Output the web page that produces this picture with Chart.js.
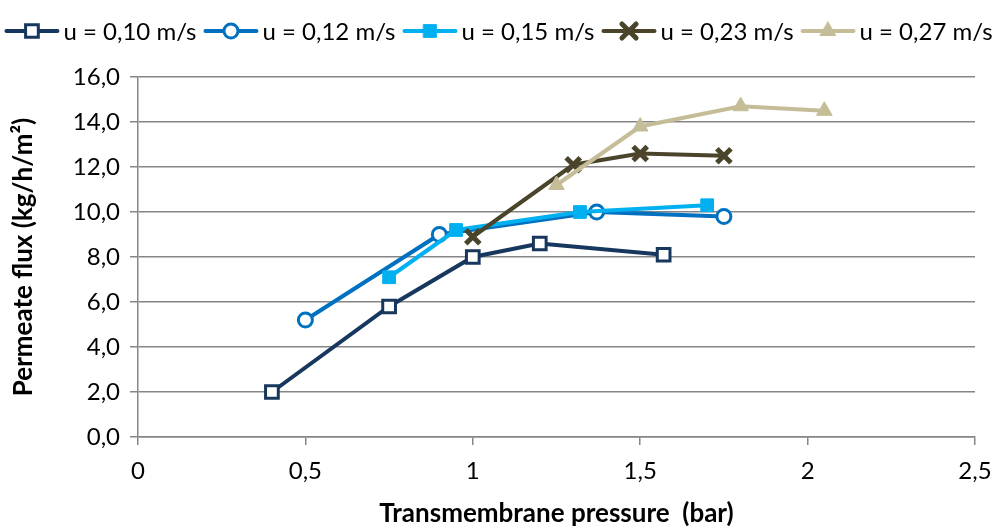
<!DOCTYPE html>
<html>
<head>
<meta charset="utf-8">
<script src="https://cdn.jsdelivr.net/npm/chart.js@4.4.1/dist/chart.umd.min.js"></script>
<style>
  html, body { margin: 0; padding: 0; background: #fff; }
  #wrap { width: 997px; height: 527px; position: relative; }
</style>
</head>
<body>
<div id="wrap"><canvas id="fluxChart"></canvas></div>
<script>
// Series labels
let seriesLabels = ["u = 0,10 m/s", "u = 0,12 m/s", "u = 0,15 m/s", "u = 0,23 m/s", "u = 0,27 m/s"];

// Transmembrane pressure (bar) / permeate flux (kg/h/m2) per velocity
let tmp010 = [0.40, 0.75, 1.00, 1.20, 1.57];
let flux010 = [2.0, 5.8, 8.0, 8.6, 8.1];

let tmp012 = [0.50, 0.90, 1.37, 1.75];
let flux012 = [5.2, 9.0, 10.0, 9.8];

let tmp015 = [0.75, 0.95, 1.32, 1.70];
let flux015 = [7.1, 9.2, 10.0, 10.3];

let tmp023 = [1.00, 1.30, 1.50, 1.75];
let flux023 = [8.9, 12.1, 12.6, 12.5];

let tmp027 = [1.25, 1.50, 1.80, 2.05];
let flux027 = [11.2, 13.8, 14.7, 14.5];

let xTicks = [0, 0.5, 1, 1.5, 2, 2.5];
let yTicks = [0, 2, 4, 6, 8, 10, 12, 14, 16];

let toPoints = function(xs, ys) {
    return xs.map((x, i) => ({x: x, y: ys[i]}));
}

let styles = [
    {color: '#17375E', point: 'rect', radius: 9, fill: '#ffffff', bw: 3},
    {color: '#0070C0', point: 'circle', radius: 7, fill: '#ffffff', bw: 3},
    {color: '#00B0F0', point: 'rect', radius: 9, fill: '#00B0F0', bw: 1},
    {color: '#4A452A', point: 'crossRot', radius: 10, fill: '#4A452A', bw: 5},
    {color: '#C4BD97', point: 'triangle', radius: 9, fill: '#C4BD97', bw: 1},
];

let seriesData = [
    toPoints(tmp010, flux010),
    toPoints(tmp012, flux012),
    toPoints(tmp015, flux015),
    toPoints(tmp023, flux023),
    toPoints(tmp027, flux027),
];

let datasets = seriesData.map((d, i) => ({
    label: seriesLabels[i],
    data: d,
    borderColor: styles[i].color,
    backgroundColor: styles[i].fill,
    borderWidth: 4,
    pointStyle: styles[i].point,
    pointRadius: styles[i].radius,
    pointBorderWidth: styles[i].bw,
    pointBorderColor: styles[i].color,
    pointBackgroundColor: styles[i].fill,
    showLine: true,
    tension: 0,
    order: 4 - i,   // later series on top, like Excel
}));

let fmt = function(v, digits) {
    return (digits == null ? String(v) : v.toFixed(digits)).replace('.', ',');
}

// Excel style legend: line with marker, then text
let lineLegendPlugin = {
    id: 'lineLegend',
    afterDraw: function(chart) {
        let ctx = chart.ctx;
        ctx.save();
        ctx.font = '24px Lato';
        ctx.textBaseline = 'middle';
        let lineW = 55, gapText = 4, gapItem = 7;
        let widths = seriesLabels.map(t => lineW + gapText + ctx.measureText(t).width);
        let total = widths.reduce((a, b) => a + b) + gapItem * (widths.length - 1);
        let x = (chart.width - total) / 2;
        let y = 31;
        for (let i = 0; i < seriesLabels.length; i++) {
            let s = styles[i];
            ctx.strokeStyle = s.color;
            ctx.lineWidth = 4;
            ctx.lineCap = 'round';
            ctx.beginPath();
            ctx.moveTo(x + 2, y);
            ctx.lineTo(x + lineW - 2, y);
            ctx.stroke();
            ctx.fillStyle = s.fill;
            ctx.lineWidth = s.bw;
            Chart.helpers.drawPoint(ctx, {pointStyle: s.point, radius: s.radius, borderWidth: s.bw}, x + lineW / 2, y);
            ctx.fillStyle = '#000';
            ctx.fillText(seriesLabels[i], x + lineW + gapText, y + 1);
            x += widths[i] + gapItem;
        }
        ctx.restore();
    }
}

let createChart = function() {
    const ctx = document.getElementById('fluxChart');
    return new Chart(ctx, {
        type: 'scatter',
        data: {datasets: datasets},
        options: {
            responsive: false,
            animation: false,
            layout: {padding: {top: 77, right: 22, left: 0, bottom: 0}},
            plugins: {
                legend: {display: false},
                tooltip: {enabled: false},
            },
            scales: {
                x: {
                    type: 'linear',
                    min: 0,
                    max: 2.5,
                    afterBuildTicks: function(scale) {
                        scale.ticks = xTicks.map(v => ({value: v}));
                    },
                    afterFit: function(scale) {
                        scale.height = 90;
                        // let the last label hang over the right edge, as in Excel
                        scale.paddingRight = 0;
                        scale.paddingLeft = 0;
                    },
                    ticks: {
                        color: '#000',
                        font: {family: 'Lato', size: 24},
                        padding: 12,
                        callback: v => fmt(v),
                    },
                    grid: {drawOnChartArea: false, tickLength: 8, color: '#868686', lineWidth: 1.5},
                    border: {color: '#868686', width: 1.5},
                    title: {
                        display: true,
                        text: 'Transmembrane pressure  (bar)',
                        color: '#000',
                        font: {family: 'Lato', size: 26, weight: 'bold', lineHeight: 1},
                        padding: {top: 0, bottom: 0},
                    },
                },
                y: {
                    min: 0,
                    max: 16,
                    afterBuildTicks: function(scale) {
                        scale.ticks = yTicks.map(v => ({value: v}));
                    },
                    afterFit: function(scale) {
                        scale.width = 138;
                        scale.paddingTop = 0;
                        scale.paddingBottom = 0;
                    },
                    ticks: {
                        color: '#000',
                        font: {family: 'Lato', size: 24},
                        padding: 10,
                        callback: v => fmt(v, 1),
                    },
                    grid: {color: '#868686', lineWidth: 1.5, tickLength: 8},
                    border: {color: '#868686', width: 1.5},
                    title: {
                        display: true,
                        text: 'Permeate flux (kg/h/m²)',
                        color: '#000',
                        font: {family: 'Lato', size: 26, weight: 'bold', lineHeight: 1},
                        padding: {top: 11, bottom: 0},
                    },
                },
            },
        },
        plugins: [lineLegendPlugin],
    });
}

window.onload = function() {
    let canvas = document.getElementById('fluxChart');
    canvas.width = 997;
    canvas.height = 527;
    createChart();
}
</script>
</body>
</html>
